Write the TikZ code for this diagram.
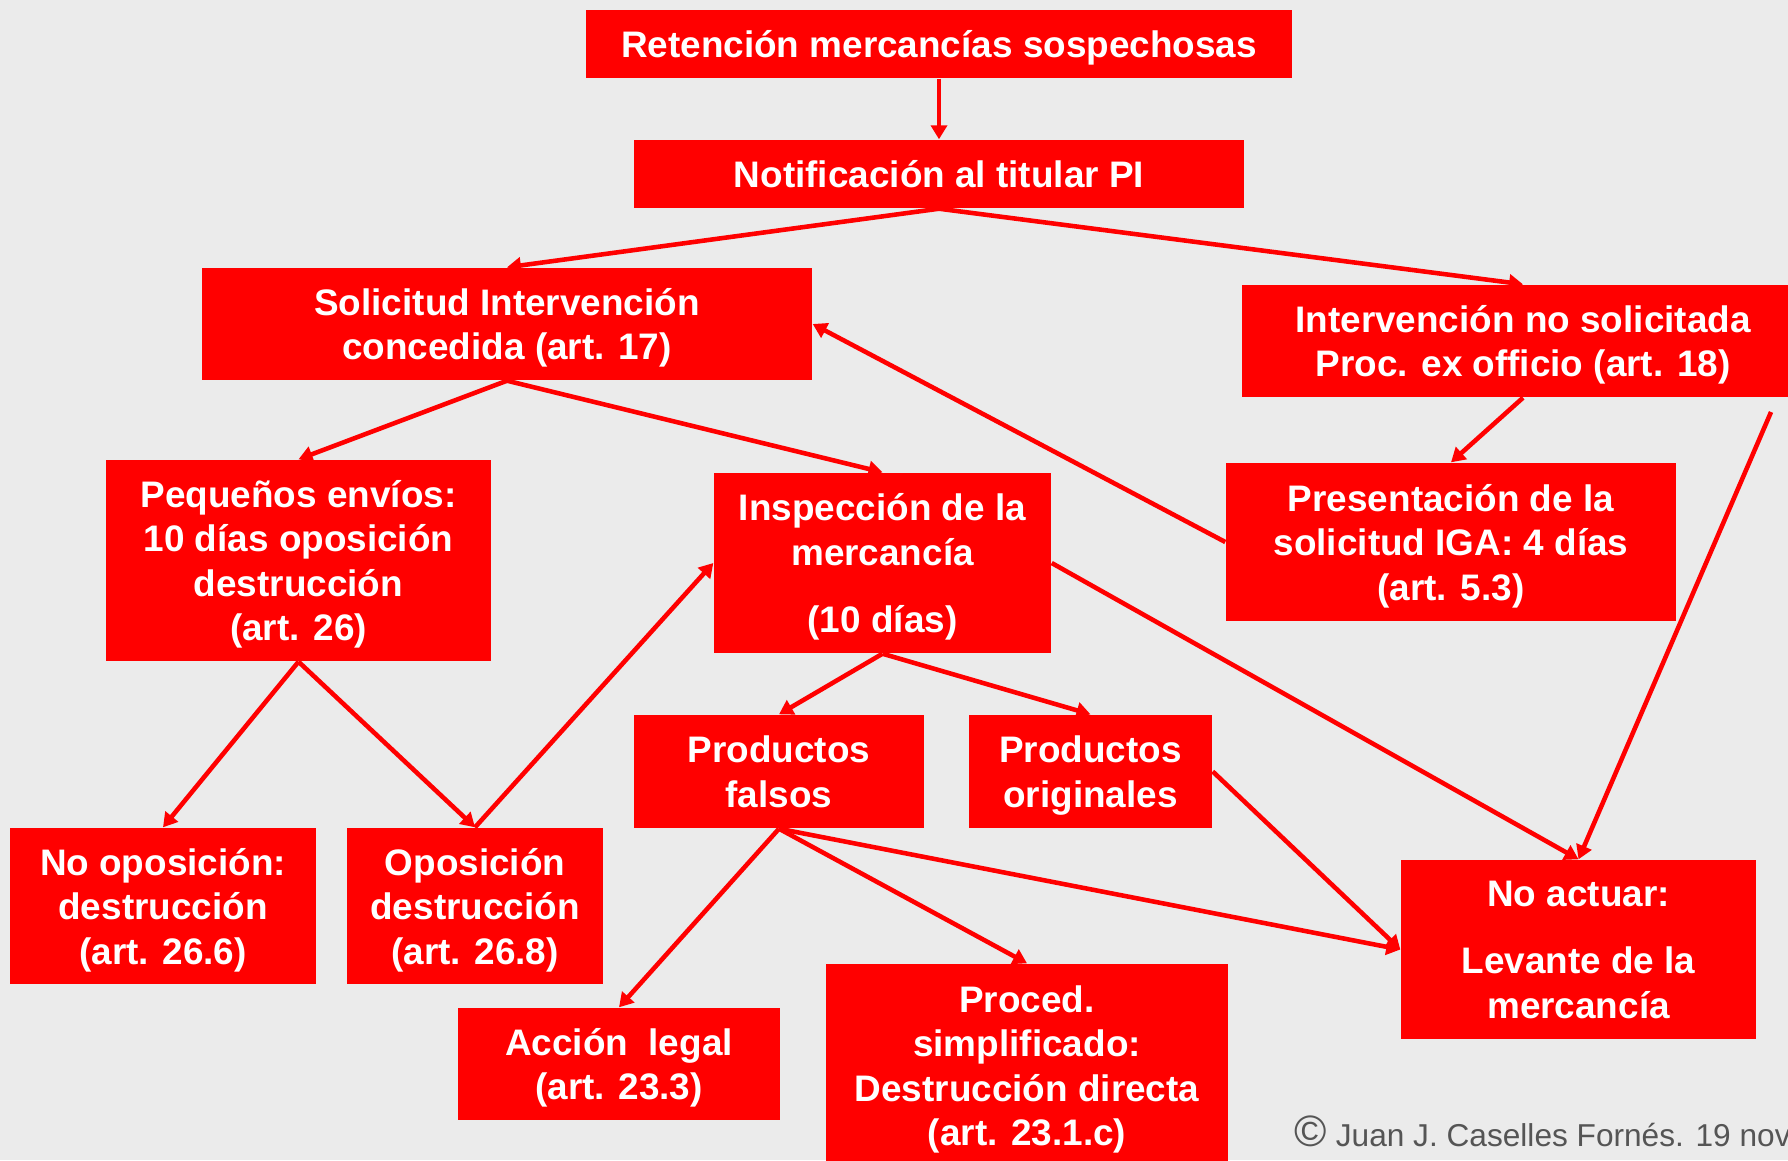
\documentclass[tikz,border=0pt]{standalone}
\usepackage{fontspec}
\setmainfont{Liberation Sans}
\usepackage{tikz}
\usetikzlibrary{arrows.meta,positioning}
\definecolor{fondo}{RGB}{235,235,235}
\definecolor{firma}{RGB}{85,85,85}

\begin{document}
\begin{tikzpicture}[>={Triangle[width=1.6mm,length=1.4mm]}, on grid,
    box/.style={rectangle, fill=red, text=white, align=center, inner sep=0pt, text depth=0pt,
        font=\fontsize{10.5pt}{12.66pt}\selectfont\bfseries}]
	\useasboundingbox (0,0) rectangle (17.88,-11.60);
	\fill[fondo] (0,0) rectangle (17.88,-11.60);
               \node[box, minimum width=7.06cm, minimum height=0.68cm] (ret) at (9.39,-0.44) {Retención mercancías sospechosas};
               \node[box, minimum width=6.10cm, minimum height=0.68cm] (notif) [below=1.30cm of ret] {Notificación al titular PI};
               \node[box, minimum width=6.10cm, minimum height=1.12cm] (sol) [below left=1.50cm and 4.32cm of notif] {Solicitud Intervención\\ concedida (art. 17)};
               \node[box, minimum width=5.62cm, minimum height=1.12cm] (interv) [below right=1.67cm and 5.84cm of notif] {Intervención no solicitada\\ Proc. ex officio (art. 18)};
               \node[box, minimum width=3.85cm, minimum height=2.01cm] (peq) [below left=2.365cm and 2.085cm of sol] {Pequeños envíos:\\ 10 días oposición\\ destrucción\\ (art. 26)};
               \node[box, minimum width=3.37cm, minimum height=1.80cm] (insp) [below right=2.39cm and 3.755cm of sol] {Inspección de la\\ mercancía\\[6.5pt] (10 días)};
               \node[box, minimum width=4.50cm, minimum height=1.58cm] (pres) [below left=2.01cm and 0.72cm of interv] {Presentación de la\\ solicitud IGA: 4 días\\ (art. 5.3)};
               \node[box, minimum width=2.90cm, minimum height=1.13cm] (falsos) [below left=2.085cm and 1.035cm of insp] {Productos\\ falsos};
               \node[box, minimum width=2.43cm, minimum height=1.13cm] (orig) [right=3.115cm of falsos] {Productos\\ originales};
               \node[box, minimum width=3.06cm, minimum height=1.56cm] (noop) [below left=3.455cm and 1.355cm of peq] {No oposición:\\ destrucción\\ (art. 26.6)};
               \node[box, minimum width=2.56cm, minimum height=1.56cm] (op) [right=3.12cm of noop] {Oposición\\ destrucción\\ (art. 26.8)};
               \node[box, minimum width=3.22cm, minimum height=1.12cm] (accion) [below left=2.925cm and 1.60cm of falsos] {Acción\ \ legal\\ (art. 23.3)};
               \node[box, minimum width=4.02cm, minimum height=2.03cm] (proc) [below right=2.94cm and 2.48cm of falsos] {Proced.\\ simplificado:\\ Destrucción directa\\ (art. 23.1.c)};
               \node[box, minimum width=3.55cm, minimum height=1.79cm] (noact) [below right=1.78cm and 4.88cm of orig] {No actuar:\\[6.5pt] Levante de la\\ mercancía};
               \coordinate (ofi) at (17.71,-4.12);
               \node[anchor=base west, inner sep=0pt, text=firma, font=\fontsize{9pt}{11pt}\selectfont] (firma) at (12.94,-11.46) {{\fontsize{12.5pt}{12.5pt}\selectfont ©} Juan J. Caselles Fornés. 19 nov};
		\path[->, red, line width=1.3pt]
			(ret.south)	edge (notif.north)
			(notif.south)	edge (sol.north)
					edge (interv.north)
			(sol.south)	edge (peq.north)
					edge (insp.north)
			(pres.west)	edge (sol.east)
			(interv.south)	edge (pres.north)
			(ofi)		edge (noact.north)
			(peq.south)	edge (noop.north)
					edge (op.north)
			(op.north)	edge (insp.west)
			(insp.south)	edge (falsos.north)
					edge (orig.north)
			(insp.east)	edge (noact.north)
			(falsos.south)	edge (accion.north)
					edge (proc.north)
					edge (noact.west)
			(orig.east)	edge (noact.west);
\end{tikzpicture}
\end{document}
